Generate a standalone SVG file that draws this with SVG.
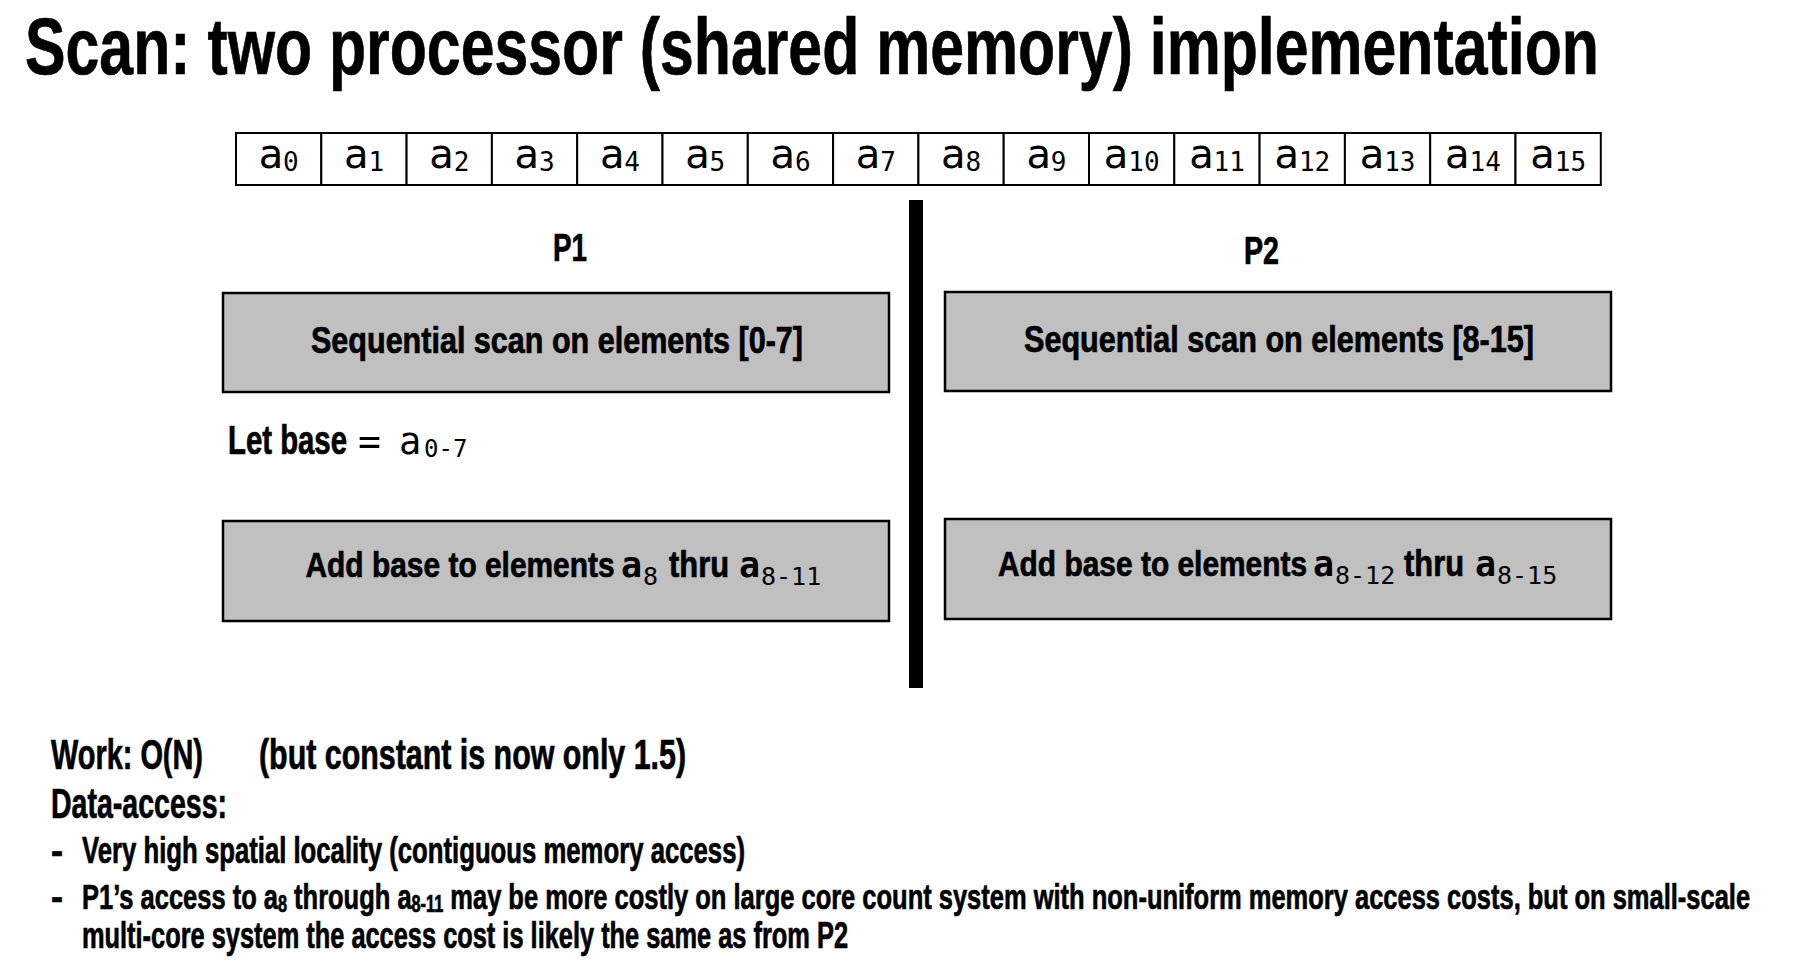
<svg xmlns="http://www.w3.org/2000/svg" width="1794" height="961" viewBox="0 0 1794 961">
<style>
.b{font-family:"Liberation Sans",Arial,sans-serif;font-weight:bold;fill:#000;stroke:#000;stroke-width:0.7}
.m{font-family:"DejaVu Sans Mono","Liberation Mono",monospace;fill:#000;stroke:none}
.mb{font-family:"DejaVu Sans Mono","Liberation Mono",monospace;font-weight:bold;fill:#000;stroke:none}
.cell{fill:#fff;stroke:#000;stroke-width:2}
.box{fill:#c0c0c0;stroke:#000;stroke-width:2.5}
</style>
<rect width="1794" height="961" fill="#fff"/>
<g id="title"><text class="b" transform="translate(25,74) scale(0.72,1)" x="0" y="0" font-size="80" stroke-width="1.4" textLength="2186" lengthAdjust="spacingAndGlyphs">Scan: two processor (shared memory) implementation</text></g>
<g id="array">
<rect class="cell" x="236" y="133" width="85.3" height="52"/>
<rect class="cell" x="321.3" y="133" width="85.3" height="52"/>
<rect class="cell" x="406.6" y="133" width="85.3" height="52"/>
<rect class="cell" x="491.9" y="133" width="85.3" height="52"/>
<rect class="cell" x="577.2" y="133" width="85.3" height="52"/>
<rect class="cell" x="662.5" y="133" width="85.3" height="52"/>
<rect class="cell" x="747.8" y="133" width="85.3" height="52"/>
<rect class="cell" x="833.1" y="133" width="85.3" height="52"/>
<rect class="cell" x="918.4" y="133" width="85.3" height="52"/>
<rect class="cell" x="1003.7" y="133" width="85.3" height="52"/>
<rect class="cell" x="1089" y="133" width="85.3" height="52"/>
<rect class="cell" x="1174.3" y="133" width="85.3" height="52"/>
<rect class="cell" x="1259.6" y="133" width="85.3" height="52"/>
<rect class="cell" x="1344.9" y="133" width="85.3" height="52"/>
<rect class="cell" x="1430.2" y="133" width="85.3" height="52"/>
<rect class="cell" x="1515.5" y="133" width="85.3" height="52"/>
<g class="m" text-anchor="middle" font-size="41">
<text x="278.6" y="168">a<tspan font-size="26" dy="3">0</tspan></text>
<text x="363.9" y="168">a<tspan font-size="26" dy="3">1</tspan></text>
<text x="449.2" y="168">a<tspan font-size="26" dy="3">2</tspan></text>
<text x="534.5" y="168">a<tspan font-size="26" dy="3">3</tspan></text>
<text x="619.8" y="168">a<tspan font-size="26" dy="3">4</tspan></text>
<text x="705.1" y="168">a<tspan font-size="26" dy="3">5</tspan></text>
<text x="790.4" y="168">a<tspan font-size="26" dy="3">6</tspan></text>
<text x="875.7" y="168">a<tspan font-size="26" dy="3">7</tspan></text>
<text x="961" y="168">a<tspan font-size="26" dy="3">8</tspan></text>
<text x="1046.3" y="168">a<tspan font-size="26" dy="3">9</tspan></text>
<text x="1131.6" y="168">a<tspan font-size="26" dy="3">10</tspan></text>
<text x="1216.9" y="168">a<tspan font-size="26" dy="3">11</tspan></text>
<text x="1302.2" y="168">a<tspan font-size="26" dy="3">12</tspan></text>
<text x="1387.5" y="168">a<tspan font-size="26" dy="3">13</tspan></text>
<text x="1472.8" y="168">a<tspan font-size="26" dy="3">14</tspan></text>
<text x="1558.1" y="168">a<tspan font-size="26" dy="3">15</tspan></text>
</g>
</g>
<g id="divider"><rect x="909" y="200" width="14" height="488" fill="#000"/></g>
<g id="p1-label"><text class="b" x="553" y="261" font-size="38" textLength="34" lengthAdjust="spacingAndGlyphs">P1</text></g>
<g id="p2-label"><text class="b" x="1244" y="264" font-size="38" textLength="35" lengthAdjust="spacingAndGlyphs">P2</text></g>
<g id="p1-scan">
<rect class="box" x="223" y="293" width="666" height="99"/>
<text class="b" x="311" y="353" font-size="36" textLength="492" lengthAdjust="spacingAndGlyphs">Sequential scan on elements [0-7]</text>
</g>
<g id="p2-scan">
<rect class="box" x="945" y="292" width="666" height="99"/>
<text class="b" x="1024" y="352" font-size="36" textLength="510" lengthAdjust="spacingAndGlyphs">Sequential scan on elements [8-15]</text>
</g>
<g id="let-base">
<text class="b" transform="translate(228,454) scale(0.73,1)" x="0" y="0" font-size="40" textLength="163" lengthAdjust="spacingAndGlyphs">Let base</text>
<text class="m" x="358" y="454" font-size="38">=</text>
<text class="m" x="399" y="454" font-size="37">a</text>
<text class="m" x="424" y="457" font-size="24">0-7</text>
</g>
<g id="p1-add">
<rect class="box" x="223" y="521" width="666" height="100"/>
<text class="b" transform="translate(305.5,577) scale(0.84,1)" x="0" y="0" font-size="36" textLength="368" lengthAdjust="spacingAndGlyphs">Add base to elements</text>
<text class="mb" x="621" y="577" font-size="35">a</text>
<text class="m" x="643" y="585" font-size="25">8</text>
<text class="b" transform="translate(669,577) scale(0.857,1)" x="0" y="0" font-size="36" textLength="70" lengthAdjust="spacingAndGlyphs">thru</text>
<text class="mb" x="739" y="577" font-size="35">a</text>
<text class="m" x="761" y="585" font-size="25">8-11</text>
</g>
<g id="p2-add">
<rect class="box" x="945" y="519" width="666" height="100"/>
<text class="b" transform="translate(998,575.5) scale(0.84,1)" x="0" y="0" font-size="36" textLength="368" lengthAdjust="spacingAndGlyphs">Add base to elements</text>
<text class="mb" x="1313" y="575.5" font-size="35">a</text>
<text class="m" x="1335" y="583.5" font-size="25">8-12</text>
<text class="b" transform="translate(1404,575.5) scale(0.857,1)" x="0" y="0" font-size="36" textLength="70" lengthAdjust="spacingAndGlyphs">thru</text>
<text class="mb" x="1475" y="575.5" font-size="35">a</text>
<text class="m" x="1497" y="583.5" font-size="25">8-15</text>
</g>
<g id="notes">
<text class="b" x="51" y="769" font-size="42" textLength="152" lengthAdjust="spacingAndGlyphs">Work: O(N)</text>
<text class="b" x="259" y="769" font-size="42" textLength="427" lengthAdjust="spacingAndGlyphs">(but constant is now only 1.5)</text>
<text class="b" x="51" y="818" font-size="42" textLength="176" lengthAdjust="spacingAndGlyphs">Data-access:</text>
<text class="b" x="51" y="863" font-size="36">-</text>
<text class="b" x="82" y="863" font-size="36" textLength="663" lengthAdjust="spacingAndGlyphs">Very high spatial locality (contiguous memory access)</text>
<text class="b" x="51" y="909" font-size="36">-</text>
<text class="b" transform="translate(82,909) scale(0.7,1)" x="0" y="0" font-size="36" textLength="2383" lengthAdjust="spacingAndGlyphs">P1’s access to a<tspan font-size="23" dy="3">8</tspan><tspan dy="-3"> through a</tspan><tspan font-size="23" dy="3">8-11</tspan><tspan dy="-3"> may be more costly on large core count system with non-uniform memory access costs, but on small-scale</tspan></text>
<text class="b" x="82" y="948" font-size="36" textLength="766" lengthAdjust="spacingAndGlyphs">multi-core system the access cost is likely the same as from P2</text>
</g>
</svg>
